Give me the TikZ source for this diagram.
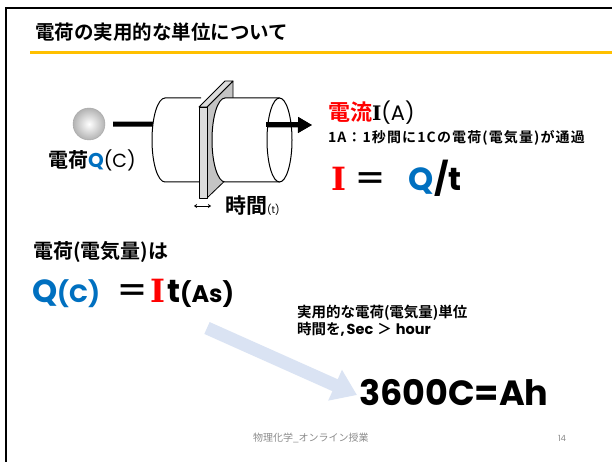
\documentclass[tikz,border=0pt]{standalone}
\usepackage{fontspec}
\usetikzlibrary{arrows.meta}
\newfontfamily\jp{Noto Sans CJK JP}[BoldFont={Noto Sans CJK JP Bold}]
\newfontfamily\lat{Poppins}
\newfontfamily\slab{DejaVu Serif}
\newcommand{\fsz}[1]{\fontsize{#1}{#1}\selectfont}
\definecolor{qblue}{HTML}{0070C0}
\definecolor{ired}{HTML}{FF0000}
\definecolor{rulegold}{HTML}{FFC000}
\definecolor{paleblue}{HTML}{DAE3F3}
\definecolor{footgray}{HTML}{8C8C8C}
\definecolor{platefront}{HTML}{DCDCDC}
\definecolor{plateside}{HTML}{C4C4C4}
\tikzset{
  txt/.style={inner sep=0pt, outer sep=0pt, anchor=base west},
  plate/.style={draw=black, line width=0.8pt, line join=round},
  flow/.style={line width=5pt, -{Triangle[length=14pt, width=15pt]}},
  charge/.style={circle, minimum size=32pt, inner sep=0pt, draw=gray!70, line width=0.4pt,
    shading=radial, inner color=white, outer color=gray!60},
}
\begin{document}
\begin{tikzpicture}[x=1pt, y=-1pt]
\useasboundingbox (0,0) rectangle (612,462);
\fill[white] (0,0) rectangle (612,462);

% slide frame and heading rule
\draw[line width=2pt] (6,462) -- (6,8) -- (612,8);
\draw[rulegold, line width=3pt] (30,52.5) -- (612,52.5);
\node[txt] (title) at (35,40) {\jp\bfseries\fsz{19.5}電荷の実用的な単位について};

% charge and current arrow
\node[charge] (q) at (89,124) {};
\coordinate (tip) at (312,125);
\draw[flow, shorten <=8pt] (q.east) -- (tip);

% left cylinder (behind the plate)
\path[fill=white] (201,98) -- (165,98) arc[start angle=90, end angle=270, x radius=13pt, y radius=42pt] -- (201,182) -- cycle;
\draw[line width=1pt] (201,98) -- (165,98) arc[start angle=90, end angle=270, x radius=13pt, y radius=42pt] -- (201,182);

% cross-section plate
\filldraw[plate, fill=plateside] (207,107) -- (233,81) -- (233,173) -- (207,198) -- cycle;
\filldraw[plate, fill=platefront] (199,107) -- (225,81) -- (233,81) -- (207,107) -- cycle;
\filldraw[plate, fill=platefront] (199,107) rectangle (207,198);

% right cylinder (in front of the plate)
\path[fill=white] (225,98) -- (279.5,98) arc[start angle=90, end angle=270, x radius=12.5pt, y radius=42pt] -- (225,182) arc[start angle=270, end angle=90, x radius=13pt, y radius=42pt] -- cycle;
\draw[line width=1pt] (279.5,98) -- (225,98) arc[start angle=90, end angle=270, x radius=13pt, y radius=42pt] -- (279.5,182);
\draw[line width=1pt] (279.5,140) ellipse[x radius=12.5pt, y radius=42pt];
\coordinate (mouth) at (266,125);
\draw[flow] (mouth) -- (tip);

% labels around the figure
\node[txt] (qlabel) at (48,168) {\jp\bfseries\fsz{20}電荷{\lat\color{qblue}Q}{\lat\mdseries\fsz{19}(C)}};
\draw[{Stealth[length=3pt,width=4pt]}-{Stealth[length=3pt,width=4pt]}, line width=0.8pt] (194,206) -- (211,206);
\node[txt] (tlabel) at (225,213) {\jp\bfseries\fsz{21}時間{\lat\mdseries\fsz{10}(t)}};

\node[txt] (ilabel) at (328,121) {\jp\bfseries\fsz{22}{\color{ired}電流}{\slab\bfseries\fsz{20}I}{\lat\mdseries\fsz{21}(A)}};
\node[txt] (idef) at (328,143) {\jp\bfseries\fsz{14}\addfontfeature{LetterSpace=8}1A：1秒間に1Cの電荷(電気量)が通過};
\node[txt] (ieq) at (331,191) {\fsz{32}{\slab\bfseries\color{ired}I}\hspace{9pt}{\jp\bfseries＝}\hspace{22pt}{\lat\bfseries\color{qblue}Q}{\lat\bfseries /t}};

\node[txt] (qhead) at (33,258) {\jp\bfseries\fsz{20}電荷(電気量)は};
\node[txt] (qeq) at (32,302) {\fsz{32}{\lat\bfseries\color{qblue}Q{\fsz{25}(C)}}\hspace{16pt}{\jp\bfseries＝}\hspace{2pt}{\slab\bfseries\color{ired}I}\hspace{2pt}{\lat\bfseries t\fsz{24}(As)}};

\node[txt] (unit1) at (297,317) {\jp\bfseries\fsz{14.5}実用的な電荷(電気量)単位};
\node[txt] (unit2) at (297,334) {\jp\bfseries\fsz{14.5}時間を{\lat ,\hspace{2pt}Sec}\hspace{4pt}＞\hspace{4pt}{\lat hour}};

% conversion arrow
\coordinate (from) at (207,328);
\coordinate (to) at (357,395);
\draw[paleblue, line width=13pt, -{Triangle[length=24pt, width=32pt]}] (from) -- (to);

\node[txt] (ah) at (359,405) {\lat\bfseries\fsz{35}3600C=Ah};

% footer
\node[txt] (foot) at (253,441) {\jp\fsz{10}\color{footgray}物理化学\_オンライン授業};
\node[txt] (page) at (558,441) {\lat\fsz{8.5}\color{footgray}14};
\end{tikzpicture}
\end{document}
